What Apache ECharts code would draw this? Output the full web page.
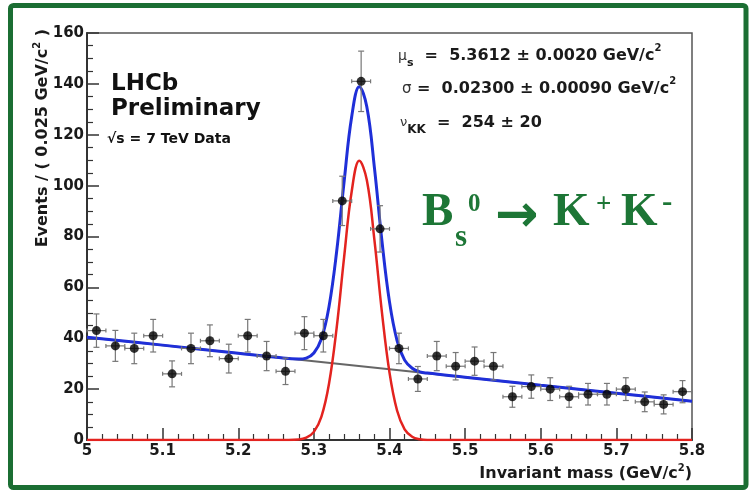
<!DOCTYPE html>
<html>
<head>
<meta charset="utf-8">
<script src="https://cdn.jsdelivr.net/npm/echarts@6/dist/echarts.min.js"></script>
<style>
  html, body { margin: 0; padding: 0; background: #fff; }
  #chart { width: 751px; height: 491px; }
</style>
</head>
<body>
<div id="chart"></div>
<script>
// histogram: bin centres (GeV/c^2) and event counts per 0.025 GeV/c^2
const binCenters = [5.0125, 5.0375, 5.0625, 5.0875, 5.1125, 5.1375, 5.1625, 5.1875,
  5.2125, 5.2375, 5.2625, 5.2875, 5.3125, 5.3375, 5.3625, 5.3875,
  5.4125, 5.4375, 5.4625, 5.4875, 5.5125, 5.5375, 5.5625, 5.5875,
  5.6125, 5.6375, 5.6625, 5.6875, 5.7125, 5.7375, 5.7625, 5.7875]
const counts = [43, 37, 36, 41, 26, 36, 39, 32,
  41, 33, 27, 42, 41, 94, 141, 83,
  36, 24, 33, 29, 31, 29, 17, 21,
  20, 17, 18, 18, 20, 15, 14, 19]

// fit curves
const fitMass = [5.0, 5.1, 5.2, 5.25, 5.28, 5.29, 5.30, 5.31, 5.32, 5.33, 5.34, 5.35, 5.36,
  5.37, 5.38, 5.39, 5.40, 5.41, 5.42, 5.43, 5.44, 5.45, 5.5, 5.6, 5.7, 5.8]
const totalFit = [40.4, 37.3, 34.1, 32.5, 31.8, 32.2, 34.2, 39.8, 52.4, 73.8, 101.6, 127.1, 138.9,
  131.0, 107.2, 78.3, 54.3, 39.1, 31.4, 28.2, 26.8, 26.3, 24.7, 21.5, 18.4, 15.2]
const signalFit = [0, 0, 0, 0, 0.2, 0.9, 3.2, 9.2, 22.1, 43.8, 71.9, 97.7, 109.8,
  102.2, 78.8, 50.2, 26.5, 11.6, 4.2, 1.3, 0.3, 0, 0, 0, 0, 0]
const bgMass = [5.0, 5.8]
const bgFit = [40.4, 15.2]

const massTicks = ['5', '5.1', '5.2', '5.3', '5.4', '5.5', '5.6', '5.7', '5.8']
const eventTicks = ['0', '20', '40', '60', '80', '100', '120', '140', '160']

const zip = (xs, ys) => xs.map((x, i) => [x, ys[i]])
const points = zip(binCenters, counts)

const sans = 'DejaVu Sans, Liberation Sans, sans-serif'
const serif = 'Liberation Serif, DejaVu Serif, serif'
const green = '#1d7636'

const chart = echarts.init(document.getElementById('chart'))

chart.setOption({
  animation: false,
  grid: {
    left: 87, right: 59, top: 33, bottom: 51,
    outerBoundsMode: 'none',
    show: true, borderColor: '#555', borderWidth: 1.5, backgroundColor: 'transparent'
  },
  xAxis: {
    type: 'value', min: 5, max: 5.8, interval: 0.1,
    axisLine: {lineStyle: {color: '#333', width: 2}},
    axisTick: {inside: true, length: 12, lineStyle: {color: '#333', width: 1.5}},
    minorTick: {show: true, splitNumber: 5, length: 6, lineStyle: {color: '#333', width: 1.2}},
    splitLine: {show: false},
    axisLabel: {
      margin: 4, color: '#1a1a1a', fontFamily: sans, fontWeight: 'bold', fontSize: 15,
      formatter: (v, i) => massTicks[i]
    }
  },
  yAxis: {
    type: 'value', min: 0, max: 160, interval: 20,
    axisLine: {lineStyle: {color: '#333', width: 2}},
    axisTick: {inside: true, length: 12, lineStyle: {color: '#333', width: 1.5}},
    minorTick: {show: true, splitNumber: 4, length: 6, lineStyle: {color: '#333', width: 1.2}},
    splitLine: {show: false},
    axisLabel: {
      margin: 3, color: '#1a1a1a', fontFamily: sans, fontWeight: 'bold', fontSize: 15,
      formatter: (v, i) => eventTicks[i]
    }
  },
  series: [
    {
      type: 'line', data: zip(bgMass, bgFit), symbol: 'none', z: 2,
      lineStyle: {color: '#666', width: 2}
    },
    {
      type: 'line', data: zip(fitMass, signalFit), symbol: 'none', smooth: 0.4, z: 3,
      lineStyle: {color: '#e3231f', width: 2.5}
    },
    {
      type: 'line', data: zip(fitMass, totalFit), symbol: 'none', smooth: 0.4, z: 4,
      lineStyle: {color: '#1f2fd8', width: 3}
    },
    {
      type: 'custom', data: points, z: 5,
      renderItem: (params, api) => {
        const m = api.value(0)
        const n = api.value(1)
        const e = Math.sqrt(n)
        const top = api.coord([m, n + e])
        const bot = api.coord([m, n - e])
        const lft = api.coord([m - 0.0125, n])
        const rgt = api.coord([m + 0.0125, n])
        const st = {stroke: '#777', lineWidth: 1.2}
        const ln = (x1, y1, x2, y2) => ({type: 'line', shape: {x1, y1, x2, y2}, style: st})
        return {
          type: 'group',
          children: [
            ln(top[0], top[1], bot[0], bot[1]),
            ln(top[0] - 3, top[1], top[0] + 3, top[1]),
            ln(bot[0] - 3, bot[1], bot[0] + 3, bot[1]),
            ln(lft[0], lft[1], rgt[0], rgt[1]),
            ln(lft[0], lft[1] - 2, lft[0], lft[1] + 2),
            ln(rgt[0], rgt[1] - 2, rgt[0], rgt[1] + 2)
          ]
        }
      }
    },
    {
      type: 'scatter', data: points, symbol: 'circle', symbolSize: 9, z: 6,
      itemStyle: {color: '#000'}
    }
  ],
  graphic: [
    {
      type: 'rect', shape: {x: 10.5, y: 5.5, width: 735.5, height: 482, r: 3},
      style: {fill: 'none', stroke: '#1b6e33', lineWidth: 5}
    },
    // axis titles
    {
      type: 'text', x: 43, y: 29, rotation: Math.PI / 2,
      style: {
        text: '{a|Events / ( 0.025 GeV/c}{s|2}{a| )}', align: 'right', verticalAlign: 'middle',
        rich: {
          a: {fontFamily: sans, fontWeight: 'bold', fontSize: 16, fill: '#1a1a1a', lineHeight: 22},
          s: {fontFamily: sans, fontWeight: 'bold', fontSize: 10, fill: '#1a1a1a', lineHeight: 10, verticalAlign: 'top'}
        }
      }
    },
    {
      type: 'text', x: 692, y: 474,
      style: {
        text: '{a|Invariant mass (GeV/c}{s|2}{a|)}', align: 'right', verticalAlign: 'middle',
        rich: {
          a: {fontFamily: sans, fontWeight: 'bold', fontSize: 16, fill: '#1a1a1a', lineHeight: 22},
          s: {fontFamily: sans, fontWeight: 'bold', fontSize: 10, fill: '#1a1a1a', lineHeight: 10, verticalAlign: 'top'}
        }
      }
    },
    // LHCb label
    {type: 'text', x: 111, y: 84, style: {text: 'LHCb', font: 'bold 23px ' + sans, fill: '#111', verticalAlign: 'middle'}},
    {type: 'text', x: 111, y: 109, style: {text: 'Preliminary', font: 'bold 23px ' + sans, fill: '#111', verticalAlign: 'middle'}},
    {type: 'text', x: 107, y: 139, style: {text: '√s = 7 TeV Data', font: 'bold 14px ' + sans, fill: '#111', verticalAlign: 'middle'}},
    // fit parameters
    {
      type: 'text', x: 398, y: 56,
      style: {
        text: '{g|μ}{b|s}{a|  =  5.3612 ± 0.0020 GeV/c}{p|2}', verticalAlign: 'middle',
        rich: {
          a: {fontFamily: sans, fontWeight: 'bold', fontSize: 16, fill: '#1a1a1a', lineHeight: 26},
          g: {fontFamily: sans, fontSize: 14, fill: '#333', lineHeight: 26},
          b: {fontFamily: sans, fontWeight: 'bold', fontSize: 11, fill: '#1a1a1a', lineHeight: 12, verticalAlign: 'bottom'},
          p: {fontFamily: sans, fontWeight: 'bold', fontSize: 10, fill: '#1a1a1a', lineHeight: 12, verticalAlign: 'top'}
        }
      }
    },
    {
      type: 'text', x: 402, y: 89,
      style: {
        text: '{g|σ}{a| =  0.02300 ± 0.00090 GeV/c}{p|2}', verticalAlign: 'middle',
        rich: {
          a: {fontFamily: sans, fontWeight: 'bold', fontSize: 16, fill: '#1a1a1a', lineHeight: 26},
          g: {fontFamily: sans, fontSize: 15, fill: '#333', lineHeight: 26},
          p: {fontFamily: sans, fontWeight: 'bold', fontSize: 10, fill: '#1a1a1a', lineHeight: 12, verticalAlign: 'top'}
        }
      }
    },
    {
      type: 'text', x: 400, y: 123,
      style: {
        text: '{g|ν}{b|KK}{a|  =  254 ± 20}', verticalAlign: 'middle',
        rich: {
          a: {fontFamily: sans, fontWeight: 'bold', fontSize: 16, fill: '#1a1a1a', lineHeight: 26},
          g: {fontFamily: sans, fontSize: 13, fill: '#333', lineHeight: 26},
          b: {fontFamily: sans, fontWeight: 'bold', fontSize: 12, fill: '#1a1a1a', lineHeight: 12, verticalAlign: 'bottom'}
        }
      }
    },
    // decay label
    {type: 'text', x: 422, y: 213, style: {text: 'B', font: 'bold 47px ' + serif, fill: green, verticalAlign: 'middle'}},
    {type: 'text', x: 455, y: 238, style: {text: 's', font: 'bold 31px ' + serif, fill: green, verticalAlign: 'middle'}},
    {type: 'text', x: 468, y: 205, style: {text: '0', font: 'bold 25px ' + serif, fill: green, verticalAlign: 'middle'}},
    {type: 'text', x: 495, y: 217, style: {text: '→', font: 'bold 52px ' + sans, fill: green, verticalAlign: 'middle'}},
    {type: 'text', x: 553, y: 213, style: {text: 'K', font: 'bold 47px ' + serif, fill: green, verticalAlign: 'middle'}},
    {type: 'text', x: 596, y: 205, style: {text: '+', font: 'bold 27px ' + serif, fill: green, verticalAlign: 'middle'}},
    {type: 'text', x: 621, y: 213, style: {text: 'K', font: 'bold 47px ' + serif, fill: green, verticalAlign: 'middle'}},
    {type: 'text', x: 662, y: 203, style: {text: '-', font: 'bold 31px ' + serif, fill: green, verticalAlign: 'middle'}}
  ]
})
</script>
</body>
</html>
